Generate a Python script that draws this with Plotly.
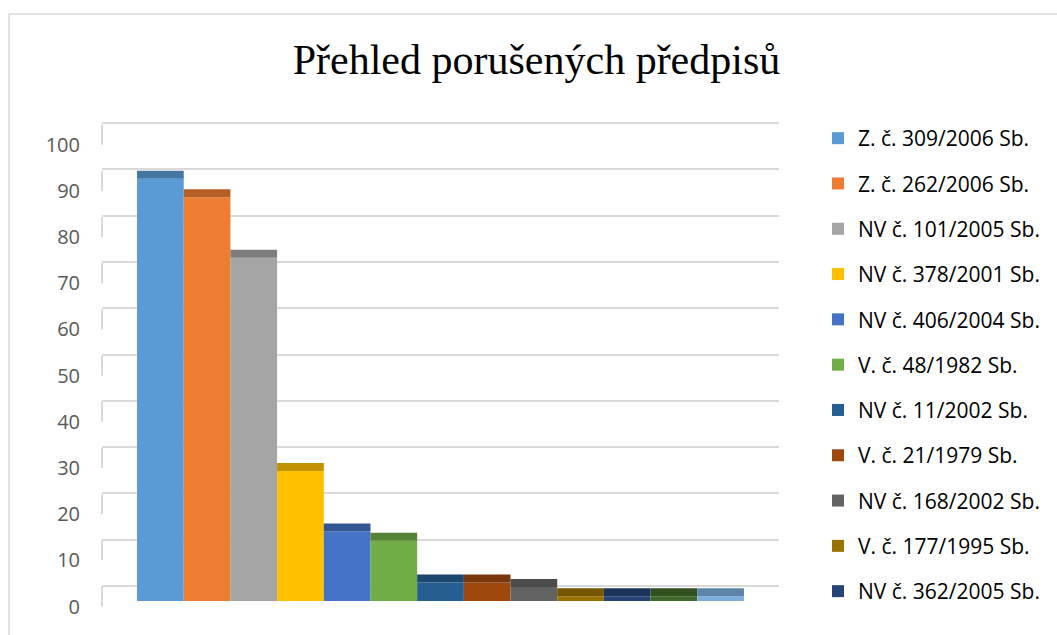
import plotly.graph_objects as go

# ---- data ----
series_names = [
    "Z. č. 309/2006 Sb.", "Z. č. 262/2006 Sb.", "NV č. 101/2005 Sb.",
    "NV č. 378/2001 Sb.", "NV č. 406/2004 Sb.", "V. č. 48/1982 Sb.",
    "NV č. 11/2002 Sb.", "V. č. 21/1979 Sb.", "NV č. 168/2002 Sb.",
    "V. č. 177/1995 Sb.", "NV č. 362/2005 Sb.", "Předpis 12", "Předpis 13",
]
series_values = [91, 87, 74, 28, 15, 13, 4, 4, 3, 1, 1, 1, 1]
category = ["Porušené předpisy"]
tick_values = [0, 10, 20, 30, 40, 50, 60, 70, 80, 90, 100]

# ---- style ----
colors = ["#5B9BD5", "#ED7D31", "#A5A5A5", "#FFC000", "#4472C4", "#70AD47",
          "#255E91", "#9E480E", "#636363", "#997300", "#264478", "#43682B", "#7CAFDD"]
legend_count = 11

def darker(hexc, f=0.76):
    h = hexc.lstrip("#")
    r, g, b = (int(h[i:i + 2], 16) for i in (0, 2, 4))
    return "#%02X%02X%02X" % (int(r * f), int(g * f), int(b * f))

W, H = 1057, 635
ml, mr, mt, mb = 102, 278, 100, 25
top_px, bot_px = mt, H - mb

def axis_range(zero_px, px_per_unit):
    return [-(bot_px - zero_px) / px_per_unit, (zero_px - top_px) / px_per_unit]

bar_rng = axis_range(601, 4.64)
grid_rng = axis_range(586, 4.63)
lab_rng = axis_range(606.5, 4.617)
cap_h = 8 / 4.64

fig = go.Figure()
for i, (name, val) in enumerate(zip(series_names, series_values)):
    fig.add_trace(go.Bar(
        x=category, y=[val], name=name, marker_color=colors[i],
        marker_line_width=0, offsetgroup=str(i), legendgroup=str(i),
        showlegend=i < legend_count, yaxis="y",
    ))
    fig.add_trace(go.Bar(
        x=category, y=[cap_h], base=[val], name=name, marker_color=darker(colors[i]),
        marker_line_width=0, offsetgroup=str(i), legendgroup=str(i),
        showlegend=False, hoverinfo="skip", yaxis="y",
    ))

# invisible traces to activate the grid / label axes
fig.add_trace(go.Scatter(x=category, y=[None], yaxis="y2", showlegend=False, hoverinfo="skip"))
fig.add_trace(go.Scatter(x=category, y=[None], yaxis="y3", showlegend=False, hoverinfo="skip"))

shapes = []
for v in tick_values:
    shapes.append(dict(type="line", xref="x domain", yref="y3", x0=0, x1=0,
                       y0=v, y1=v + 20 / 4.617, line=dict(color="#D9D9D9", width=2), layer="below"))
shapes.append(dict(type="rect", xref="paper", yref="paper",
                   x0=(9 - ml) / (W - ml - mr), x1=(1070 - ml) / (W - ml - mr),
                   y0=(bot_px - 650) / (bot_px - top_px), y1=(bot_px - 14) / (bot_px - top_px),
                   line=dict(color="#D9D9D9", width=1.5), fillcolor="rgba(0,0,0,0)"))

fig.update_layout(
    width=W, height=H,
    margin=dict(l=ml, r=mr, t=mt, b=mb, pad=0),
    paper_bgcolor="white", plot_bgcolor="white",
    barmode="group", bargap=(1 - 606 / 676), bargroupgap=0,
    title=dict(text="Přehled porušených předpisů", x=536.5 / W, xanchor="center",
               y=1 - 59 / H, yanchor="middle",
               font=dict(family="Liberation Serif", size=42, color="#000000")),
    xaxis=dict(range=[-0.5, 0.5], showticklabels=False, showgrid=False,
               zeroline=False, showline=False, fixedrange=True),
    yaxis=dict(range=bar_rng, showgrid=False, zeroline=False, showticklabels=False,
               showline=False),
    yaxis2=dict(range=grid_rng, overlaying="y", showgrid=True, gridcolor="#D9D9D9",
                gridwidth=2, tickvals=tick_values, showticklabels=False,
                zeroline=False, showline=False),
    yaxis3=dict(range=lab_rng, overlaying="y", showgrid=False, tickvals=tick_values,
                ticklabelstandoff=21, zeroline=False, showline=False,
                tickfont=dict(family="Open Sans", size=20, color="#595959")),
    legend=dict(x=(818 - ml) / (W - ml - mr), xanchor="left",
                y=(bot_px - 118) / (bot_px - top_px), yanchor="top",
                traceorder="grouped", tracegroupgap=15, maxheight=620,
                font=dict(family="Open Sans", size=21, color="#000000"),
                bgcolor="rgba(0,0,0,0)"),
    shapes=shapes,
    showlegend=True,
)

fig.write_html("out.html", config={"displayModeBar": False},
               post_script="document.body.style.margin='0';")
